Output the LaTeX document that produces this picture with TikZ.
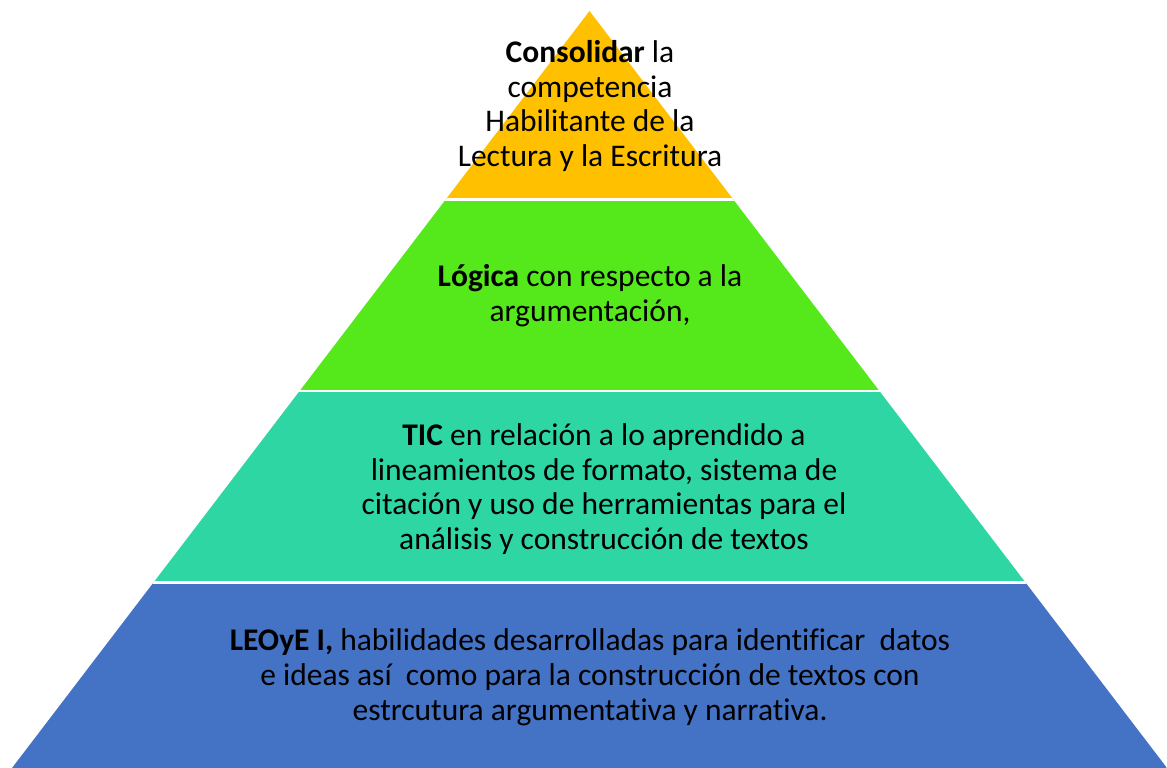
\documentclass[tikz,border=0pt]{standalone}
\usepackage{fontspec}
\setmainfont[Ligatures=CommonOff]{Carlito}
\definecolor{cyellow}{RGB}{255,192,0}
\definecolor{cgreen}{RGB}{85,232,26}
\definecolor{cteal}{RGB}{46,214,163}
\definecolor{cblue}{RGB}{68,114,196}
\begin{document}
\begin{tikzpicture}[x=1pt,y=-1pt,
  lbl/.style={align=center,font=\fontsize{31.5}{34.8}\selectfont,text=black,inner sep=0pt},
  sep/.style={draw=white,line width=2.6pt}]
\useasboundingbox (0,0) rectangle (1167,768);
\coordinate (apex) at (589.5,11);
\coordinate (bl) at (12,768);
\coordinate (br) at (1167,768);
\begin{scope}
\clip (apex) -- (bl) -- (br) -- cycle;
\fill[cyellow] (0,0) rectangle (1167,199.3);
\fill[cgreen] (0,199.3) rectangle (1167,390.8);
\fill[cteal] (0,390.8) rectangle (1167,582.5);
\fill[cblue] (0,582.5) rectangle (1167,768);
\draw[sep] (0,199.3) -- (1167,199.3);
\draw[sep] (0,390.8) -- (1167,390.8);
\draw[sep] (0,582.5) -- (1167,582.5);
\end{scope}
\node[lbl] (top) at (590,106) {\textbf{Consolidar} la\\competencia\\Habilitante de la\\Lectura y la Escritura};
\node[lbl] (logica) at (590,296) {\textbf{Lógica} con respecto a la\\argumentación,};
\node[lbl] (tic) at (604,489) {\textbf{TIC} en relación a lo aprendido a\\lineamientos de formato, sistema de\\citación y uso de herramientas para el\\análisis y construcción de textos};
\node[lbl] (leo) at (590,677) {\textbf{LEOyE I,} habilidades desarrolladas para identificar\ \ datos\\e ideas así\ \ como para la construcción de textos con\\estrcutura argumentativa y narrativa.};
\end{tikzpicture}
\end{document}
